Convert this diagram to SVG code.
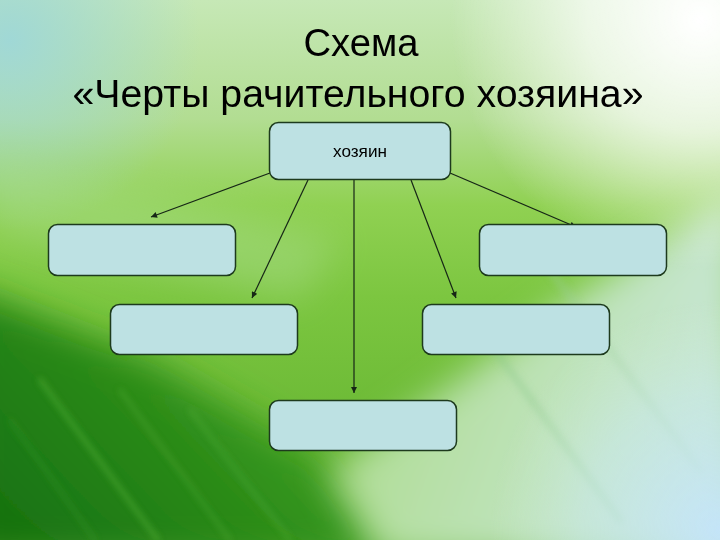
<svg xmlns="http://www.w3.org/2000/svg" width="720" height="540" viewBox="0 0 720 540">
<defs>
<style>
.box{fill:#bde1e3;stroke:#1d3a1d;stroke-width:1.5}
.con{stroke:#162616;stroke-width:1.2;fill:none;marker-end:url(#ah)}
.title{font-family:"Liberation Sans",Arial,sans-serif;font-size:38px;fill:#000;text-anchor:middle}
.lbl{font-family:"Liberation Sans",Arial,sans-serif;font-size:17px;fill:#000;text-anchor:middle}
</style>
<marker id="ah" viewBox="0 0 10 10" refX="10" refY="5" markerWidth="7" markerHeight="6" markerUnits="userSpaceOnUse" orient="auto">
<path d="M0,0 L10,5 L0,10 z" fill="#162616"/>
</marker>
<linearGradient id="base" x1="0" y1="0" x2="0" y2="540" gradientUnits="userSpaceOnUse">
<stop offset="0" stop-color="#c6e8b6"/>
<stop offset="0.22" stop-color="#b2dd92"/>
<stop offset="0.38" stop-color="#90d152"/>
<stop offset="0.55" stop-color="#7cc640"/>
<stop offset="1" stop-color="#5cae2c"/>
</linearGradient>
<linearGradient id="dark" x1="0" y1="540" x2="250" y2="300" gradientUnits="userSpaceOnUse">
<stop offset="0" stop-color="#167010"/>
<stop offset="0.55" stop-color="#2a8a18"/>
<stop offset="1" stop-color="#46a624"/>
</linearGradient>
<linearGradient id="pale" x1="380" y1="420" x2="720" y2="540" gradientUnits="userSpaceOnUse">
<stop offset="0" stop-color="#b2de9a"/>
<stop offset="1" stop-color="#cce8e0"/>
</linearGradient>
<radialGradient id="tr" cx="700" cy="20" r="250" gradientUnits="userSpaceOnUse">
<stop offset="0" stop-color="#ffffff" stop-opacity="1"/>
<stop offset="0.45" stop-color="#ffffff" stop-opacity="0.7"/>
<stop offset="1" stop-color="#ffffff" stop-opacity="0"/>
</radialGradient>
<radialGradient id="tl" cx="10" cy="40" r="190" gradientUnits="userSpaceOnUse">
<stop offset="0" stop-color="#a0d8d6" stop-opacity="1"/>
<stop offset="1" stop-color="#a0d8d6" stop-opacity="0"/>
</radialGradient>
<radialGradient id="br" cx="720" cy="530" r="230" gradientUnits="userSpaceOnUse">
<stop offset="0" stop-color="#c4e4f8" stop-opacity="1"/>
<stop offset="0.6" stop-color="#c8e8e4" stop-opacity="0.6"/>
<stop offset="1" stop-color="#d0ecd0" stop-opacity="0"/>
</radialGradient>
<filter id="blur" x="-0.3" y="-0.3" width="1.6" height="1.6"><feGaussianBlur stdDeviation="18"/></filter>
<filter id="blur2" x="-0.3" y="-0.3" width="1.6" height="1.6"><feGaussianBlur stdDeviation="3"/></filter>
</defs>

<g id="background">
<rect width="720" height="540" fill="url(#base)"/>
<rect width="720" height="540" fill="url(#tl)"/>
<path d="M-10,150 L-10,230 L300,300 L340,240 Z" fill="#a8dc8c" opacity="0.45" filter="url(#blur)"/>
<path d="M-40,285 L150,360 L320,460 L395,560 L-40,560 Z" fill="url(#dark)" filter="url(#blur)"/>
<path d="M380,560 L330,470 L430,400 L570,300 L740,190 L740,560 Z" fill="url(#pale)" filter="url(#blur)"/>
<g filter="url(#blur2)" fill="none" stroke-linecap="round">
<path d="M40,380 L158,540" stroke="#5cb83c" stroke-width="4" opacity="0.55"/>
<path d="M10,420 L95,540" stroke="#4aa830" stroke-width="3" opacity="0.4"/>
<path d="M120,390 L230,540" stroke="#6cc04a" stroke-width="3" opacity="0.35"/>
<path d="M190,410 L290,540" stroke="#7ccc52" stroke-width="3" opacity="0.3"/>
<path d="M480,330 L620,520" stroke="#8cc88c" stroke-width="8" opacity="0.35"/>
<path d="M550,270 L700,470" stroke="#98cc98" stroke-width="8" opacity="0.3"/>
</g>
<rect width="720" height="540" fill="url(#br)"/>
<rect width="720" height="540" fill="url(#tr)"/>
</g>

<g id="title">
<text class="title" x="361" y="56" textLength="115" lengthAdjust="spacingAndGlyphs">Схема</text>
<text class="title" x="358" y="107" textLength="571" lengthAdjust="spacingAndGlyphs">«Черты рачительного хозяина»</text>
</g>

<g id="connectors">
<line class="con" x1="270" y1="173" x2="151" y2="217"/>
<line class="con" x1="308" y1="180" x2="252" y2="298"/>
<line class="con" x1="354" y1="180" x2="354" y2="393"/>
<line class="con" x1="411" y1="180" x2="456" y2="298"/>
<line class="con" x1="450" y1="173" x2="576" y2="227"/>
</g>

<g id="node-master">
<rect class="box" x="269.5" y="122.5" width="181" height="57" rx="9"/>
<text class="lbl" x="360" y="157" textLength="54" lengthAdjust="spacingAndGlyphs">хозяин</text>
</g>
<g id="node-left-top"><rect class="box" x="48.5" y="224.5" width="187" height="51" rx="9"/></g>
<g id="node-left-mid"><rect class="box" x="110.5" y="304.5" width="187" height="50" rx="9"/></g>
<g id="node-bottom"><rect class="box" x="269.5" y="400.5" width="187" height="50" rx="9"/></g>
<g id="node-right-mid"><rect class="box" x="422.5" y="304.5" width="187" height="50" rx="9"/></g>
<g id="node-right-top"><rect class="box" x="479.5" y="224.5" width="187" height="51" rx="9"/></g>
</svg>
